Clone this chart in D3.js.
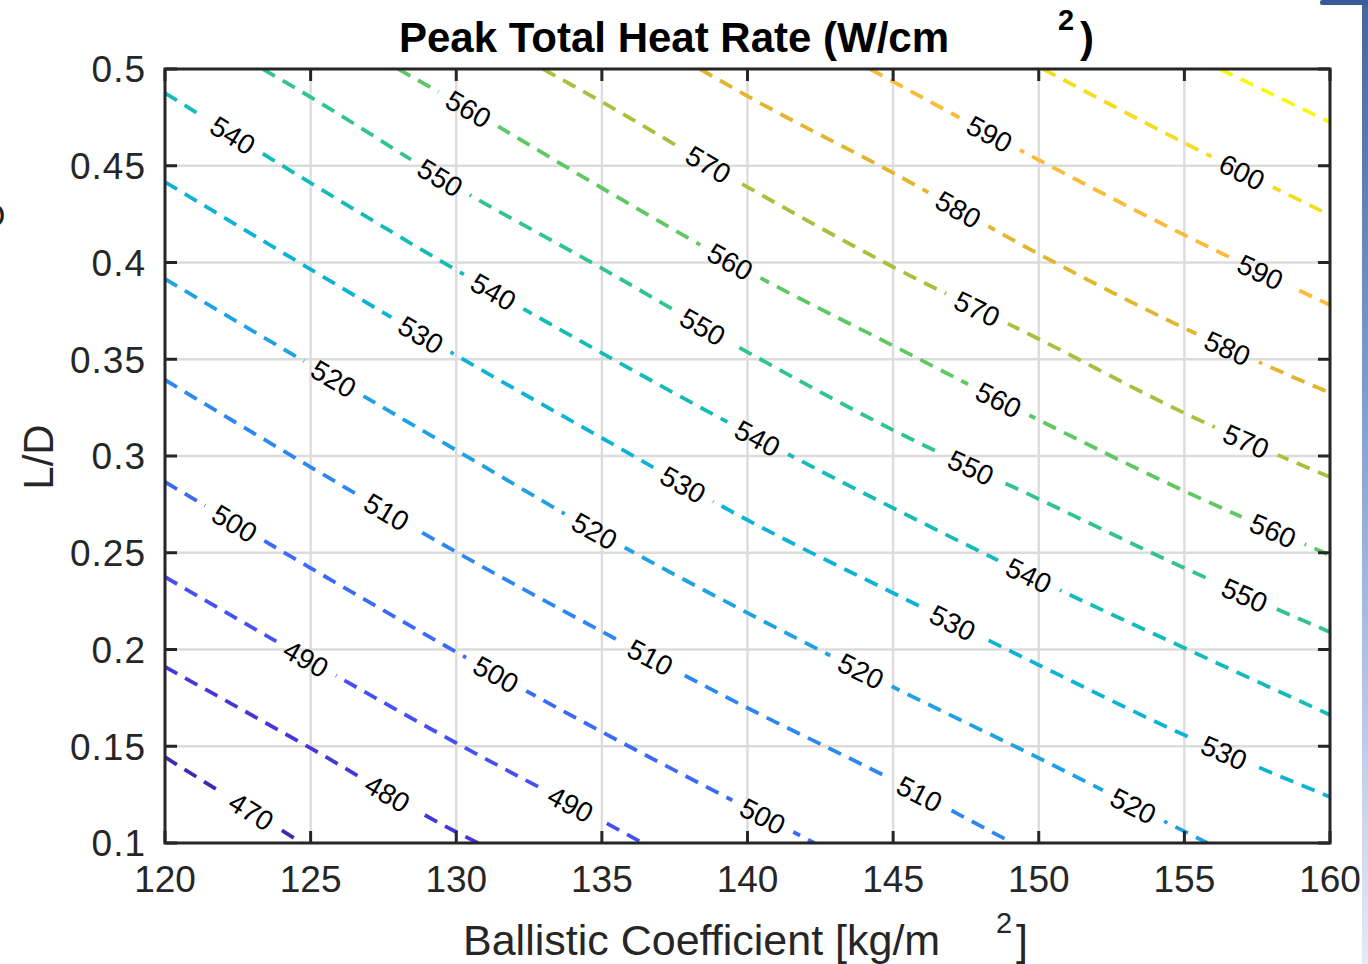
<!DOCTYPE html>
<html><head><meta charset="utf-8">
<script src="https://cdn.jsdelivr.net/npm/d3@7"></script>
<style>
body{margin:0;background:#fff;overflow:hidden;}
svg{display:block;}
text{font-family:"Liberation Sans",Arial,Helvetica,sans-serif;}
</style>
</head><body>
<svg id="chart" width="1368" height="964"></svg>
<script>
// ---------- data ----------
const xTicks = [120,125,130,135,140,145,150,155,160];
const yTicks = [0.1,0.15,0.2,0.25,0.3,0.35,0.4,0.45,0.5];
const yTickLabels = ["0.1","0.15","0.2","0.25","0.3","0.35","0.4","0.45","0.5"];
const levels = [470,480,490,500,510,520,530,540,550,560,570,580,590,600,610];

// contour lines: [ballistic coefficient, L/D]
const c470 = [[120,0.1444],[124.7,0.1]];
const c480 = [[120,0.191],[125,0.149],[130,0.1057],[130.75,0.1]];
const c490 = [[120,0.2375],[125,0.194],[130,0.1517],[135,0.1115],[136.4,0.1]];
const c500 = [[120,0.2866],[125,0.2421],[130,0.1987],[135,0.1574],[140,0.118],[142.3,0.1]];
const c510 = [[120,0.3393],[125,0.2943],[130,0.2504],[135,0.2093],[140,0.1698],[145,0.1325],[149.1,0.1]];
const c520 = [[120,0.3915],[125,0.347],[130,0.303],[135,0.2592],[140,0.2189],[145,0.1806],[150,0.1439],[155,0.106],[155.8,0.1]];
const c530 = [[120,0.4416],[125,0.3965],[130,0.352],[135,0.3093],[140,0.2669],[145,0.2292],[150,0.192],[155,0.1558],[160,0.1238]];
const c540 = [[120,0.4876],[125,0.4411],[130,0.3961],[135,0.3532],[140,0.312],[145,0.2731],[150,0.2359],[155,0.2008],[160,0.1662]];
const c550 = [[123.36,0.5],[125,0.4855],[130,0.439],[135,0.397],[140,0.3537],[145,0.3134],[150,0.2778],[155,0.2421],[160,0.209]];
const c560 = [[128.0,0.5],[130,0.483],[135,0.4385],[140,0.3956],[145,0.357],[150,0.3186],[155,0.2819],[160,0.2488]];
const c570 = [[132.98,0.5],[135,0.483],[140,0.439],[145,0.3977],[150,0.3605],[155,0.3222],[160,0.2891]];
const c580 = [[138.37,0.5],[140,0.486],[145,0.4463],[150,0.4044],[155,0.3661],[160,0.3326]];
const c590 = [[144.21,0.5],[145,0.4935],[150,0.453],[155,0.4142],[160,0.378]];
const c600 = [[150.15,0.5],[155,0.4618],[160,0.4245]];
const c610 = [[156.22,0.5],[160,0.4725]];
const contourPoints = [c470,c480,c490,c500,c510,c520,c530,c540,c550,c560,c570,c580,c590,c600,c610];

// contour labels
const labelLevel = [540,560,550,570,590,600,580,560,590,540,570,530,550,580,520,560,540,570,550,530,510,500,560,520,540,550,530,490,510,500,520,530,480,510,520,490,470,500];
const labelX = [122.33,130.40,129.44,138.64,148.33,156.98,147.19,139.40,157.60,131.26,147.85,128.76,138.47,156.46,125.73,148.60,140.36,157.15,147.67,137.79,127.59,122.40,158.01,134.76,149.63,157.01,147.06,124.81,136.65,131.40,143.93,156.39,127.59,145.85,153.30,133.94,123.02,140.57];
const labelY = [0.4659,0.4788,0.4437,0.4504,0.4669,0.4468,0.4261,0.4003,0.3951,0.3848,0.3755,0.3620,0.3672,0.3548,0.3388,0.3279,0.3093,0.3083,0.2943,0.2850,0.2705,0.2654,0.2602,0.2618,0.2370,0.2266,0.2142,0.1946,0.1956,0.1879,0.1894,0.1481,0.1248,0.1233,0.1212,0.1207,0.1181,0.1155];

// ---------- style ----------
const levelColors = ["#3e2ab2","#4536da","#4650f2","#3b6af5","#2c88f0","#1ea2e2","#0db3d4","#13bcb6","#31c48e","#5ec863","#a7c13c","#e2b52d","#fbbb38","#f4dc20","#f9f712"];
const W = 1368, H = 964;
const L = 165, R = 1330, T = 69, B = 843;
const axisColor = "#262626";

const svg = d3.select("#chart");
const x = d3.scaleLinear().domain([120,160]).range([L,R]);
const y = d3.scaleLinear().domain([0.1,0.5]).range([B,T]);

// background slide fragments
const defs = svg.append("defs");
const grad = defs.append("linearGradient").attr("id","stripGrad").attr("x1",0).attr("y1",0).attr("x2",0).attr("y2",1);
grad.append("stop").attr("offset","0%").attr("stop-color","#45649f");
grad.append("stop").attr("offset","45%").attr("stop-color","#86a2d4");
grad.append("stop").attr("offset","100%").attr("stop-color","#e4ebf7");
svg.append("rect").attr("x",1362).attr("y",0).attr("width",6).attr("height",H).attr("fill","url(#stripGrad)");
svg.append("rect").attr("x",1320).attr("y",0).attr("width",48).attr("height",5).attr("rx",2).attr("fill","#3a5a98");
svg.append("text").attr("x",-21).attr("y",227).attr("font-size",34).attr("fill","#222").text("O");

// clip
defs.append("clipPath").attr("id","plotClip").append("rect").attr("x",L).attr("y",T).attr("width",R-L).attr("height",B-T);

// grid
const grid = svg.append("g");
grid.selectAll("line.gx").data(xTicks).enter().append("line")
  .attr("x1",d=>x(d)).attr("x2",d=>x(d)).attr("y1",T).attr("y2",B)
  .attr("stroke","#dcdcdc").attr("stroke-width",2.4);
grid.selectAll("line.gy").data(yTicks).enter().append("line")
  .attr("x1",L).attr("x2",R).attr("y1",d=>y(d)).attr("y2",d=>y(d))
  .attr("stroke","#dcdcdc").attr("stroke-width",2.4);

// mask for label gaps
const mask = defs.append("mask").attr("id","lblMask").attr("maskUnits","userSpaceOnUse")
  .attr("x",0).attr("y",0).attr("width",W).attr("height",H);
mask.append("rect").attr("x",0).attr("y",0).attr("width",W).attr("height",H).attr("fill","#fff");

// contours
const line = d3.line().x(d=>x(d[0])).y(d=>y(d[1])).curve(d3.curveMonotoneX);
const cg = svg.append("g").attr("clip-path","url(#plotClip)").append("g").attr("mask","url(#lblMask)");
const paths = {};
levels.forEach((lv,i)=>{
  paths[lv] = cg.append("path").datum(contourPoints[i]).attr("d",line)
    .attr("fill","none").attr("stroke",levelColors[i]).attr("stroke-width",3.8)
    .attr("stroke-dasharray","14,9").node();
});

// labels
const lg = svg.append("g");
const FS = 28;
labelLevel.forEach((lv,i)=>{
  const p = paths[lv];
  const px = x(labelX[i]), py = y(labelY[i]);
  const len = p.getTotalLength();
  let best = 0, bd = Infinity;
  for (let s=0; s<=len; s+=1){
    const q = p.getPointAtLength(s);
    const dd = (q.x-px)*(q.x-px)+(q.y-py)*(q.y-py);
    if (dd<bd){bd=dd;best=s;}
  }
  const a = p.getPointAtLength(Math.max(0,best-6)), b = p.getPointAtLength(Math.min(len,best+6));
  const ang = Math.atan2(b.y-a.y, b.x-a.x)*180/Math.PI;
  const c = p.getPointAtLength(best);
  const t = lg.append("text").attr("transform",`translate(${c.x},${c.y}) rotate(${ang})`)
    .attr("text-anchor","middle").attr("dy","0.36em").attr("font-size",FS).attr("fill","#000").text(lv);
  const tw = t.node().getComputedTextLength();
  mask.append("rect").attr("x",-tw/2-11).attr("y",-FS*0.45).attr("width",tw+22).attr("height",FS*0.9)
    .attr("transform",`translate(${c.x},${c.y}) rotate(${ang})`).attr("fill","#000");
});

// axes box
const ax = svg.append("g");
ax.append("rect").attr("x",L).attr("y",T).attr("width",R-L).attr("height",B-T)
  .attr("fill","none").attr("stroke",axisColor).attr("stroke-width",3);
const TL = 12;
xTicks.forEach(d=>{
  ax.append("line").attr("x1",x(d)).attr("x2",x(d)).attr("y1",B).attr("y2",B-TL).attr("stroke",axisColor).attr("stroke-width",3);
  ax.append("line").attr("x1",x(d)).attr("x2",x(d)).attr("y1",T).attr("y2",T+TL).attr("stroke",axisColor).attr("stroke-width",3);
});
yTicks.forEach(d=>{
  ax.append("line").attr("x1",L).attr("x2",L+TL).attr("y1",y(d)).attr("y2",y(d)).attr("stroke",axisColor).attr("stroke-width",3);
  ax.append("line").attr("x1",R).attr("x2",R-TL).attr("y1",y(d)).attr("y2",y(d)).attr("stroke",axisColor).attr("stroke-width",3);
});
ax.selectAll("text.xt").data(xTicks).enter().append("text")
  .attr("x",d=>x(d)).attr("y",892).attr("text-anchor","middle").attr("font-size",37).attr("fill",axisColor).text(d=>d);
ax.selectAll("text.yt").data(yTicks).enter().append("text")
  .attr("x",146).attr("y",d=>y(d)).attr("dy","0.36em").attr("text-anchor","end").attr("font-size",37)
  .attr("letter-spacing",1).attr("fill",axisColor)
  .text((d,i)=>yTickLabels[i]);

// title
svg.append("text").attr("x",399).attr("y",52).attr("font-size",42).attr("font-weight","bold").attr("fill","#000").text("Peak Total Heat Rate (W/cm");
svg.append("text").attr("x",1058).attr("y",30).attr("font-size",29).attr("font-weight","bold").attr("fill","#000").text("2");
svg.append("text").attr("x",1080).attr("y",52).attr("font-size",42).attr("font-weight","bold").attr("fill","#000").text(")");

// x label
svg.append("text").attr("x",463).attr("y",955).attr("font-size",43).attr("fill",axisColor).text("Ballistic Coefficient [kg/m");
svg.append("text").attr("x",996).attr("y",933).attr("font-size",29).attr("fill",axisColor).text("2");
svg.append("text").attr("x",1016).attr("y",955).attr("font-size",43).attr("fill",axisColor).text("]");

// y label
svg.append("text").attr("transform","translate(53,457) rotate(-90)").attr("text-anchor","middle")
  .attr("font-size",42).attr("fill",axisColor).text("L/D");
</script>
</body></html>
